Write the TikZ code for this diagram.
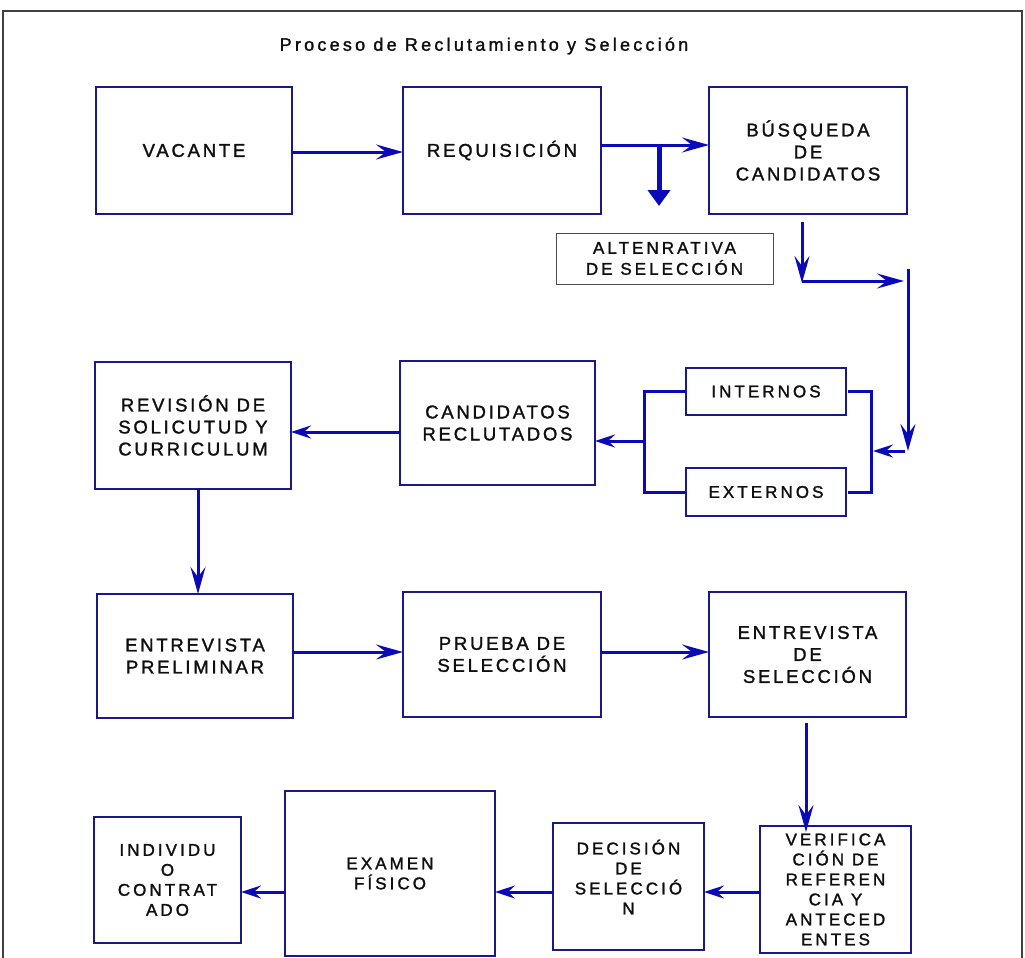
\documentclass[tikz,border=0pt]{standalone}
\usepackage{fontspec}
\setmainfont{Liberation Sans}
\newfontfamily\tfont[LetterSpace=18,FakeBold=1.5]{Liberation Sans}
\newfontfamily\bfontx[LetterSpace=15,FakeBold=1.5]{Liberation Sans}
\usetikzlibrary{arrows.meta}
\definecolor{boxblue}{RGB}{25,25,140}
\definecolor{arrblue}{RGB}{10,10,185}
\definecolor{txt}{RGB}{15,15,15}
\begin{document}
\begin{tikzpicture}[x=1pt,y=-1pt,
  box/.style={draw=boxblue, line width=2.2pt, inner sep=0pt, outer sep=0pt, align=center, text=txt},
  big/.style={font=\fontsize{18.5}{22}\bfontx},
  small/.style={font=\fontsize{17}{20}\tfont},
  arr/.style={draw=arrblue, line width=3pt, -{Stealth[length=27pt,width=15pt,inset=10pt]}},
  sarr/.style={draw=arrblue, line width=3pt, -{Stealth[length=20pt,width=13pt,inset=7pt]}},
  ln/.style={draw=arrblue, line width=3pt},
]
\useasboundingbox (0,0) rectangle (1025,958);
\draw[line width=1.5pt, draw=black!75] (3,11) rectangle (1022,975);

\node[font=\fontsize{18}{20}\tfont, text=txt] (title) at (484,46) {Proceso de Reclutamiento y Selección};

% row 1
\node[box,big,minimum width=196pt,minimum height=127pt] (vac) at (194,150.5) {VACANTE};
\node[box,big,minimum width=198pt,minimum height=127pt] (req) at (502,150.5) {REQUISICIÓN};
\node[box,big,minimum width=198pt,minimum height=127pt] (bus) at (808,150.5) {BÚSQUEDA\\DE\\CANDIDATOS};
\node[box,draw=black!70,line width=1pt,minimum width=217pt,minimum height=51pt,font=\fontsize{17}{21}\tfont] (alt) at (664.5,258.5) {ALTENRATIVA\\DE SELECCIÓN};

% row 2
\node[box,big,minimum width=196pt,minimum height=127pt] (rev) at (193,425.5) {REVISIÓN DE\\SOLICUTUD Y\\CURRICULUM};
\node[box,big,minimum width=195pt,minimum height=124pt] (cand) at (497.5,423) {CANDIDATOS\\RECLUTADOS};
\node[box,minimum width=160pt,minimum height=47pt,font=\fontsize{17}{20}\tfont] (int) at (766,391.5) {INTERNOS};
\node[box,minimum width=160pt,minimum height=48pt,font=\fontsize{17}{20}\tfont] (ext) at (766,492) {EXTERNOS};

% row 3
\node[box,big,minimum width=196pt,minimum height=124pt] (ep) at (195,656) {ENTREVISTA\\PRELIMINAR};
\node[box,big,minimum width=198pt,minimum height=125pt] (ps) at (502,654.5) {PRUEBA DE\\SELECCIÓN};
\node[box,big,minimum width=197pt,minimum height=125pt] (es) at (807.5,654.5) {ENTREVISTA\\DE\\SELECCIÓN};

% row 4
\node[box,small,minimum width=147pt,minimum height=126pt] (ind) at (167.5,880) {INDIVIDU\\O\\CONTRAT\\ADO};
\node[box,small,minimum width=210pt,minimum height=165pt] (exa) at (390,873.5) {EXAMEN\\FÍSICO};
\node[box,minimum width=151pt,minimum height=127pt] (dec) at (628.5,886.5) {};
\node[small,text=txt,align=center] (dect) at (628.5,877) {DECISIÓN\\DE\\SELECCIÓ\\N};
\node[box,small,minimum width=151pt,minimum height=127pt] (ver) at (835.5,889.5) {VERIFICA\\CIÓN DE\\REFEREN\\CIA Y\\ANTECED\\ENTES};

% coordinates
\coordinate (j1) at (659,145);
\coordinate (alttip) at (659,206);
\coordinate (b1) at (802,222);
\coordinate (b2) at (802,283);
\coordinate (h1) at (802,281);
\coordinate (h2) at (904,281);
\coordinate (v1) at (908,269);
\coordinate (v2) at (908,451);
\coordinate (s1) at (905,451);
\coordinate (s2) at (873,451);
\coordinate (rb) at (871,0);
\coordinate (lb) at (644,0);
\coordinate (lo) at (644,441);

% connectors
\draw[arr] ([yshift=-1.5pt]vac.east) -- ([yshift=-1.5pt]req.west);
\draw[arr] ([yshift=5.5pt]req.east) -- ([yshift=5.5pt]bus.west);
\draw[draw=arrblue, line width=5pt, -{Triangle[length=16pt,width=22pt]}] (j1) -- (alttip);
\draw[arr] (b1) -- (b2);
\draw[arr] (h1) -- (h2);
\draw[arr] (v1) -- (v2);
\draw[sarr] (s1) -- (s2);
\draw[ln] ([xshift=1.5pt]int.east) -- (int.east -| rb) -- (ext.east -| rb) -- ([xshift=1.5pt]ext.east);
\draw[ln] ([xshift=-1.5pt]int.west) -- (int.west -| lb) -- (ext.west -| lb) -- ([xshift=-1.5pt]ext.west);
\draw[sarr] (lo) -- (lo -| cand.east);
\draw[sarr] ([yshift=-9pt]cand.west) -- ([yshift=-9pt]cand.west -| rev.east);
\draw[arr] ([xshift=5pt]rev.south) -- ([xshift=5pt]rev.south |- ep.north);
\draw[arr] ([yshift=4pt]ep.east) -- ([yshift=4pt]ep.east -| ps.west);
\draw[arr] ([yshift=2.5pt]ps.east) -- ([yshift=2.5pt]ps.east -| es.west);
\draw[arr] ([xshift=-1.5pt,yshift=-6pt]es.south) -- ([xshift=-1.5pt,yshift=-6pt]es.south |- ver.north);
\draw[sarr] ([yshift=-2.5pt]ver.west) -- ([yshift=-2.5pt]ver.west -| dec.east);
\draw[sarr] ([yshift=-5.5pt]dec.west) -- ([yshift=-5.5pt]dec.west -| exa.east);
\draw[sarr] ([yshift=-18.5pt]exa.west) -- ([yshift=-18.5pt]exa.west -| ind.east);
\end{tikzpicture}
\end{document}
